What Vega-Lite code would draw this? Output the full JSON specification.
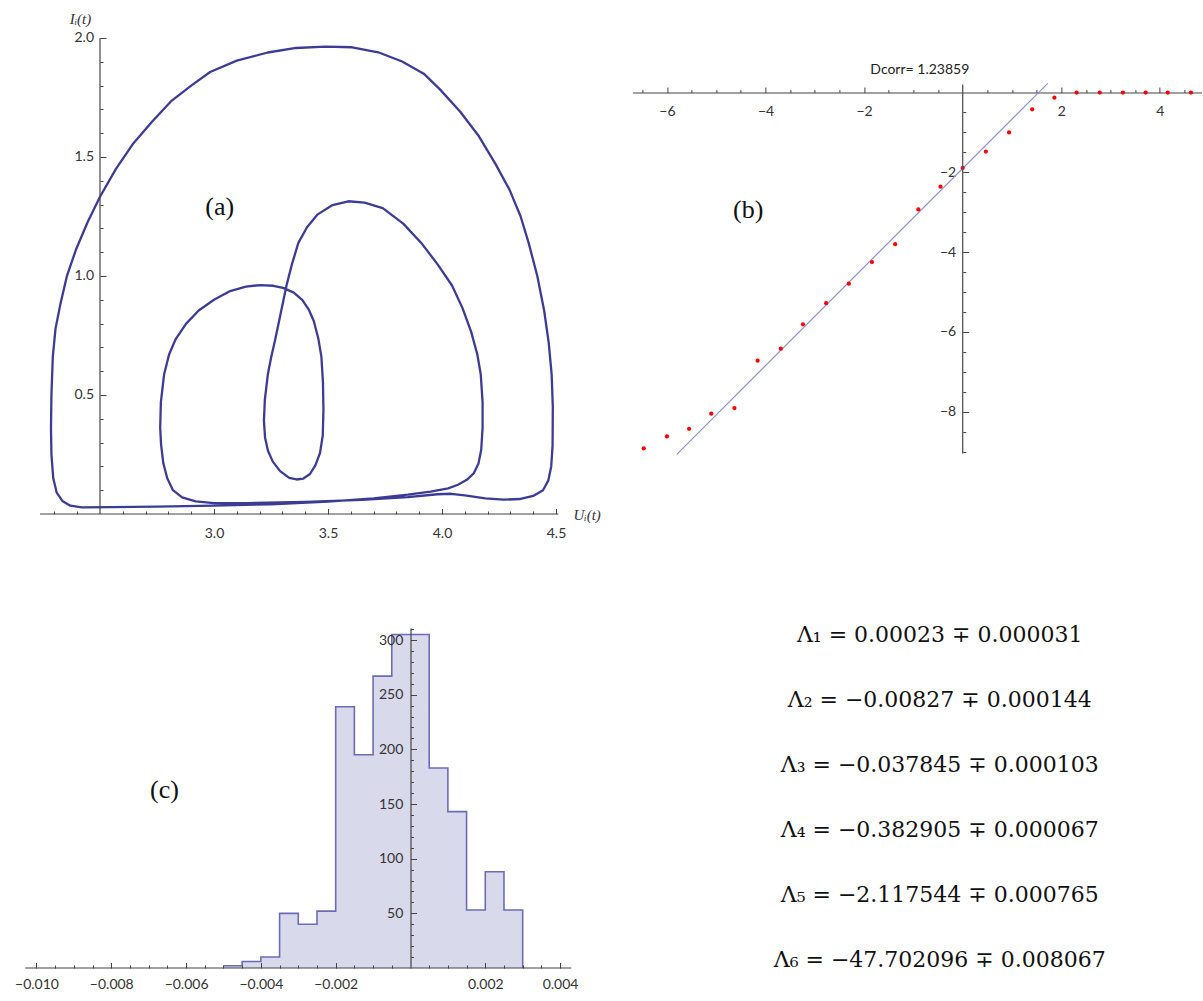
{
  "$schema": "https://vega.github.io/schema/vega-lite/v6.json",
  "padding": {"left": 5, "top": 10, "right": 0, "bottom": 0},
  "background": "white",
  "config": {
    "view": {"stroke": null},
    "axis": {"grid": false, "labelFont": "Lato", "labelFontSize": 14, "labelColor": "#333", "tickColor": "#444", "domainColor": "#444", "tickWidth": 1, "domainWidth": 1.2, "labelFlush": false, "labelOverlap": false, "labelBound": false}
  },
  "datasets": {
    "curve": [
      {"t":1,"u":2.42,"i":0.028},{"t":2,"u":2.37,"i":0.035},{"t":3,"u":2.335,"i":0.055},{"t":4,"u":2.31,"i":0.09},{"t":5,"u":2.295,"i":0.15},
      {"t":6,"u":2.287,"i":0.25},{"t":7,"u":2.285,"i":0.36},{"t":8,"u":2.287,"i":0.5},{"t":9,"u":2.293,"i":0.661},{"t":10,"u":2.305,"i":0.78},
      {"t":11,"u":2.327,"i":0.885},{"t":12,"u":2.355,"i":1.0},{"t":13,"u":2.394,"i":1.109},{"t":14,"u":2.445,"i":1.225},{"t":15,"u":2.5,"i":1.333},
      {"t":16,"u":2.57,"i":1.45},{"t":17,"u":2.646,"i":1.557},{"t":18,"u":2.73,"i":1.65},{"t":19,"u":2.815,"i":1.737},{"t":20,"u":2.9,"i":1.8},
      {"t":21,"u":2.983,"i":1.857},{"t":22,"u":3.1,"i":1.905},{"t":23,"u":3.236,"i":1.939},{"t":24,"u":3.36,"i":1.958},{"t":25,"u":3.488,"i":1.964},
      {"t":26,"u":3.606,"i":1.961},{"t":27,"u":3.72,"i":1.94},{"t":28,"u":3.825,"i":1.901},{"t":29,"u":3.92,"i":1.85},{"t":30,"u":3.993,"i":1.782},
      {"t":31,"u":4.08,"i":1.69},{"t":32,"u":4.162,"i":1.587},{"t":33,"u":4.235,"i":1.47},{"t":34,"u":4.296,"i":1.363},{"t":35,"u":4.345,"i":1.25},
      {"t":36,"u":4.38,"i":1.139},{"t":37,"u":4.418,"i":1.0},{"t":38,"u":4.448,"i":0.855},{"t":39,"u":4.468,"i":0.72},{"t":40,"u":4.481,"i":0.586},
      {"t":41,"u":4.486,"i":0.45},{"t":42,"u":4.485,"i":0.287},{"t":43,"u":4.479,"i":0.2},{"t":44,"u":4.466,"i":0.14},{"t":45,"u":4.443,"i":0.1},
      {"t":46,"u":4.4,"i":0.076},{"t":47,"u":4.34,"i":0.063},{"t":48,"u":4.27,"i":0.06},{"t":49,"u":4.19,"i":0.066},{"t":50,"u":4.1,"i":0.078},
      {"t":51,"u":4.04,"i":0.085},{"t":52,"u":3.98,"i":0.083},{"t":53,"u":3.85,"i":0.071},{"t":54,"u":3.65,"i":0.059},{"t":55,"u":3.4,"i":0.051},
      {"t":56,"u":3.15,"i":0.046},{"t":57,"u":3.0,"i":0.046},{"t":58,"u":2.92,"i":0.053},{"t":59,"u":2.86,"i":0.07},{"t":60,"u":2.82,"i":0.1},
      {"t":61,"u":2.795,"i":0.15},{"t":62,"u":2.778,"i":0.212},{"t":63,"u":2.768,"i":0.29},{"t":64,"u":2.764,"i":0.362},{"t":65,"u":2.767,"i":0.47},
      {"t":66,"u":2.781,"i":0.586},{"t":67,"u":2.803,"i":0.67},{"t":68,"u":2.832,"i":0.735},{"t":69,"u":2.878,"i":0.8},{"t":70,"u":2.933,"i":0.855},
      {"t":71,"u":3.0,"i":0.9},{"t":72,"u":3.067,"i":0.935},{"t":73,"u":3.14,"i":0.955},{"t":74,"u":3.202,"i":0.962},{"t":75,"u":3.26,"i":0.959},
      {"t":76,"u":3.303,"i":0.95},{"t":77,"u":3.35,"i":0.93},{"t":78,"u":3.387,"i":0.9},{"t":79,"u":3.415,"i":0.86},{"t":80,"u":3.438,"i":0.81},
      {"t":81,"u":3.458,"i":0.735},{"t":82,"u":3.471,"i":0.661},{"t":83,"u":3.478,"i":0.55},{"t":84,"u":3.48,"i":0.436},{"t":85,"u":3.477,"i":0.33},
      {"t":86,"u":3.465,"i":0.257},{"t":87,"u":3.445,"i":0.205},{"t":88,"u":3.421,"i":0.168},{"t":89,"u":3.392,"i":0.149},{"t":90,"u":3.362,"i":0.145},
      {"t":91,"u":3.33,"i":0.152},{"t":92,"u":3.29,"i":0.18},{"t":93,"u":3.258,"i":0.22},{"t":94,"u":3.237,"i":0.265},{"t":95,"u":3.224,"i":0.32},
      {"t":96,"u":3.219,"i":0.392},{"t":97,"u":3.223,"i":0.48},{"t":98,"u":3.236,"i":0.586},{"t":99,"u":3.251,"i":0.66},{"t":100,"u":3.269,"i":0.735},
      {"t":101,"u":3.294,"i":0.85},{"t":102,"u":3.318,"i":0.96},{"t":103,"u":3.342,"i":1.05},{"t":104,"u":3.37,"i":1.139},{"t":105,"u":3.408,"i":1.205},
      {"t":106,"u":3.455,"i":1.259},{"t":107,"u":3.52,"i":1.298},{"t":108,"u":3.589,"i":1.314},{"t":109,"u":3.66,"i":1.308},{"t":110,"u":3.74,"i":1.285},
      {"t":111,"u":3.83,"i":1.22},{"t":112,"u":3.909,"i":1.139},{"t":113,"u":3.98,"i":1.05},{"t":114,"u":4.044,"i":0.96},{"t":115,"u":4.09,"i":0.865},
      {"t":116,"u":4.128,"i":0.765},{"t":117,"u":4.155,"i":0.67},{"t":118,"u":4.17,"i":0.586},{"t":119,"u":4.178,"i":0.47},{"t":120,"u":4.178,"i":0.362},
      {"t":121,"u":4.172,"i":0.27},{"t":122,"u":4.16,"i":0.212},{"t":123,"u":4.14,"i":0.172},{"t":124,"u":4.111,"i":0.145},{"t":125,"u":4.07,"i":0.123},
      {"t":126,"u":4.027,"i":0.108},{"t":127,"u":3.95,"i":0.094},{"t":128,"u":3.85,"i":0.081},{"t":129,"u":3.7,"i":0.066},{"t":130,"u":3.5,"i":0.052},
      {"t":131,"u":3.25,"i":0.041},{"t":132,"u":3.0,"i":0.035},{"t":133,"u":2.75,"i":0.031},{"t":134,"u":2.55,"i":0.029},{"t":135,"u":2.42,"i":0.028}
    ],
    "pts": [
      {"x":-6.47,"y":-8.92},{"x":-6.0,"y":-8.62},{"x":-5.55,"y":-8.43},{"x":-5.1,"y":-8.05},{"x":-4.63,"y":-7.91},
      {"x":-4.16,"y":-6.72},{"x":-3.69,"y":-6.42},{"x":-3.24,"y":-5.81},{"x":-2.77,"y":-5.28},{"x":-2.31,"y":-4.79},
      {"x":-1.84,"y":-4.25},{"x":-1.37,"y":-3.8},{"x":-0.9,"y":-2.93},{"x":-0.45,"y":-2.36},{"x":0.0,"y":-1.89},
      {"x":0.47,"y":-1.48},{"x":0.94,"y":-1.0},{"x":1.41,"y":-0.42},{"x":1.86,"y":-0.13},{"x":2.31,"y":0},
      {"x":2.78,"y":0},{"x":3.25,"y":0},{"x":3.71,"y":0},{"x":4.16,"y":0},{"x":4.63,"y":0}
    ],
    "fit": [{"x":-5.8,"y":-9.07},{"x":1.725,"y":0.23}],
    "hist": [
      {"x":-0.005,"n":2},{"x":-0.0045,"n":6},{"x":-0.004,"n":10},{"x":-0.0035,"n":50},{"x":-0.003,"n":40},
      {"x":-0.0025,"n":52},{"x":-0.002,"n":239},{"x":-0.0015,"n":195},{"x":-0.001,"n":267},{"x":-0.0005,"n":305},
      {"x":0.0,"n":305},{"x":0.0005,"n":183},{"x":0.001,"n":143},{"x":0.0015,"n":53},{"x":0.002,"n":88},
      {"x":0.0025,"n":53},{"x":0.003,"n":0}
    ],
    "lyap": [
      {"k":1,"label":"Λ₁ = 0.00023 ∓ 0.000031"},
      {"k":2,"label":"Λ₂ = −0.00827 ∓ 0.000144"},
      {"k":3,"label":"Λ₃ = −0.037845 ∓ 0.000103"},
      {"k":4,"label":"Λ₄ = −0.382905 ∓ 0.000067"},
      {"k":5,"label":"Λ₅ = −2.117544 ∓ 0.000765"},
      {"k":6,"label":"Λ₆ = −47.702096 ∓ 0.008067"}
    ]
  },
  "columns": 2,
  "align": "each",
  "bounds": "flush",
  "spacing": {"row": 114, "column": 60.4},
  "concat": [
    {
      "width": 553.28,
      "height": 504,
      "resolve": {"axis": {"x": "independent", "y": "independent"}},
      "layer": [
        {
          "data": {"name": "curve"},
          "mark": {"type": "line", "color": "#3c3c96", "strokeWidth": 2.3, "strokeJoin": "round"},
          "encoding": {
            "x": {"field": "u", "type": "quantitative", "scale": {"domain": [2.08333, 4.51], "nice": false, "zero": false},
              "axis": {"orient": "bottom", "values": [3, 3.5, 4, 4.5], "format": ".1f", "domain": false, "tickSize": -5.5, "labelPadding": 17.5,
                "title": "Uᵢ(t)", "titleX": 568, "titleY": 0, "titleAlign": "left", "titleBaseline": "middle", "titleAngle": 0,
                "titleFont": "Liberation Serif", "titleFontStyle": "italic", "titleFontWeight": "normal", "titleFontSize": 15, "titleColor": "#333"}},
            "y": {"field": "i", "type": "quantitative", "scale": {"domain": [0, 2.1176], "nice": false, "zero": false},
              "axis": {"orient": "left", "offset": -95, "values": [0.5, 1, 1.5, 2], "format": ".1f", "domain": false, "tickSize": -6, "labelPadding": 12.5,
                "title": "Iᵢ(t)", "titleX": -20, "titleY": 8, "titleAlign": "center", "titleBaseline": "middle", "titleAngle": 0,
                "titleFont": "Liberation Serif", "titleFontStyle": "italic", "titleFontWeight": "normal", "titleFontSize": 15, "titleColor": "#333"}},
            "order": {"field": "t", "type": "quantitative"}
          }
        },
        {
          "data": {"values": [{}]},
          "mark": {"type": "rule", "color": "#444", "strokeWidth": 1.2},
          "encoding": {
            "x": {"datum": 2.237, "axis": {"orient": "bottom", "values": [2.3, 2.4, 2.6, 2.7, 2.8, 2.9, 3.1, 3.2, 3.3, 3.4, 3.6, 3.7, 3.8, 3.9, 4.1, 4.2, 4.3, 4.4], "labels": false, "domain": false, "tickSize": -3, "title": null}},
            "x2": {"datum": 4.51},
            "y": {"datum": 0, "axis": null}
          }
        },
        {
          "data": {"values": [{}]},
          "mark": {"type": "rule", "color": "#444", "strokeWidth": 1.2},
          "encoding": {
            "x": {"datum": 2.5, "axis": null},
            "y": {"datum": 0, "axis": {"orient": "left", "offset": -95, "values": [0.1, 0.2, 0.3, 0.4, 0.6, 0.7, 0.8, 0.9, 1.1, 1.2, 1.3, 1.4, 1.6, 1.7, 1.8, 1.9], "labels": false, "domain": false, "tickSize": -3, "title": null}},
            "y2": {"datum": 2.0}
          }
        },
        {
          "data": {"values": [{}]},
          "mark": {"type": "text", "text": "(a)", "font": "Liberation Serif", "fontSize": 26, "color": "#111"},
          "encoding": {"x": {"datum": 3.025, "axis": null}, "y": {"datum": 1.29, "axis": null}}
        }
      ]
    },
    {
      "width": 569.4,
      "height": 445.6,
      "resolve": {"axis": {"x": "independent", "y": "independent"}},
      "layer": [
        {
          "data": {"name": "fit"},
          "mark": {"type": "line", "color": "#9191d2", "strokeWidth": 1.2},
          "encoding": {
            "x": {"field": "x", "type": "quantitative", "scale": {"domain": [-6.7, 4.85], "nice": false, "zero": false},
              "axis": {"orient": "bottom", "offset": -363.1, "values": [-6.5, -5.5, -5, -4.5, -3.5, -3, -2.5, -1.5, -1, -0.5, 0.5, 1, 1.5, 2.5, 3, 3.5, 4.5], "labels": false, "domain": false, "tickSize": -3, "title": null}},
            "y": {"field": "y", "type": "quantitative", "scale": {"domain": [-9.1, 2.068], "nice": false, "zero": false},
              "axis": {"orient": "left", "offset": -330.3, "values": [-0.5, -1, -1.5, -2.5, -3, -3.5, -4.5, -5, -5.5, -6.5, -7, -7.5, -8.5, -9], "labels": false, "domain": false, "tickSize": -3, "title": null}}
          }
        },
        {
          "data": {"name": "pts"},
          "mark": {"type": "circle", "color": "#ff0000", "size": 18, "opacity": 1},
          "encoding": {
            "x": {"field": "x", "type": "quantitative",
              "axis": {"orient": "bottom", "offset": -363.1, "values": [-6, -4, -2, 2, 4], "format": "d", "domain": true, "tickSize": -5.5, "labelPadding": 17, "title": null}},
            "y": {"field": "y", "type": "quantitative",
              "axis": {"orient": "left", "offset": -330.3, "values": [-2, -4, -6, -8], "format": "d", "domain": false, "tickSize": -6, "labelPadding": 13, "title": null}}
          }
        },
        {
          "data": {"values": [{}]},
          "mark": {"type": "rule", "color": "#555", "strokeWidth": 1.3},
          "encoding": {"x": {"datum": 0, "axis": null}, "y": {"datum": -9.05, "axis": null}, "y2": {"datum": 0.2}}
        },
        {
          "data": {"values": [{}]},
          "mark": {"type": "text", "text": "(b)", "font": "Liberation Serif", "fontSize": 26, "color": "#111"},
          "encoding": {"x": {"datum": -4.35, "axis": null}, "y": {"datum": -2.94, "axis": null}}
        },
        {
          "data": {"values": [{}]},
          "mark": {"type": "text", "text": "Dcorr= 1.23859", "font": "Lato", "fontSize": 14, "color": "#222"},
          "encoding": {"x": {"datum": -0.87, "axis": null}, "y": {"datum": 0.576, "axis": null}}
        }
      ]
    },
    {
      "width": 566.3,
      "height": 340,
      "resolve": {"axis": {"x": "independent", "y": "independent"}},
      "layer": [
        {
          "data": {"name": "hist"},
          "mark": {"type": "area", "interpolate": "step-after", "color": "#d9d9ec", "opacity": 1, "line": {"color": "#6c6cb6", "strokeWidth": 1.6}},
          "encoding": {
            "x": {"field": "x", "type": "quantitative", "scale": {"domain": [-0.010842, 0.0043], "nice": false, "zero": false},
              "axis": {"orient": "bottom", "values": [-0.01, -0.008, -0.006, -0.004, -0.002, 0.002, 0.004], "format": ".3f", "domain": false, "tickSize": -5.5, "labelPadding": 14.5, "title": null, "zindex": 1}},
            "y": {"field": "n", "type": "quantitative", "scale": {"domain": [0, 311], "nice": false, "zero": false},
              "axis": {"orient": "left", "offset": -405.5, "values": [50, 100, 150, 200, 250, 300], "domain": true, "tickSize": -6, "labelPadding": 13.7, "title": null, "zindex": 1}}
          }
        },
        {
          "data": {"values": [{}]},
          "mark": {"type": "rule", "color": "#444", "strokeWidth": 1.2},
          "encoding": {
            "x": {"datum": -0.0103, "axis": {"orient": "bottom", "values": [-0.0095, -0.009, -0.0085, -0.0075, -0.007, -0.0065, -0.0055, -0.005, -0.0045, -0.0035, -0.003, -0.0025, -0.0015, -0.001, -0.0005, 0.0005, 0.001, 0.0015, 0.0025, 0.003, 0.0035], "labels": false, "domain": false, "tickSize": -3, "title": null, "zindex": 1}},
            "x2": {"datum": 0.0043},
            "y": {"datum": 0, "axis": null}
          }
        },
        {
          "data": {"values": [{}]},
          "mark": {"type": "text", "text": "(c)", "font": "Liberation Serif", "fontSize": 26, "color": "#111"},
          "encoding": {
            "x": {"datum": -0.00658, "axis": null},
            "y": {"datum": 162.8, "axis": {"orient": "left", "offset": -405.5, "values": [10, 20, 30, 40, 60, 70, 80, 90, 110, 120, 130, 140, 160, 170, 180, 190, 210, 220, 230, 240, 260, 270, 280, 290, 310], "labels": false, "domain": false, "tickSize": -3, "title": null, "zindex": 1}}
          }
        }
      ]
    },
    {
      "width": 560,
      "height": 340,
      "data": {"name": "lyap"},
      "mark": {"type": "text", "font": "DejaVu Serif", "fontSize": 22, "color": "#111", "align": "center", "baseline": "middle"},
      "encoding": {
        "x": {"datum": 0, "scale": {"domain": [-0.5488, 0.4512], "nice": false, "zero": false}, "axis": null},
        "y": {"field": "k", "type": "quantitative", "scale": {"domain": [0.8923, 6.123], "reverse": true, "nice": false, "zero": false}, "axis": null},
        "text": {"field": "label"}
      }
    }
  ]
}
